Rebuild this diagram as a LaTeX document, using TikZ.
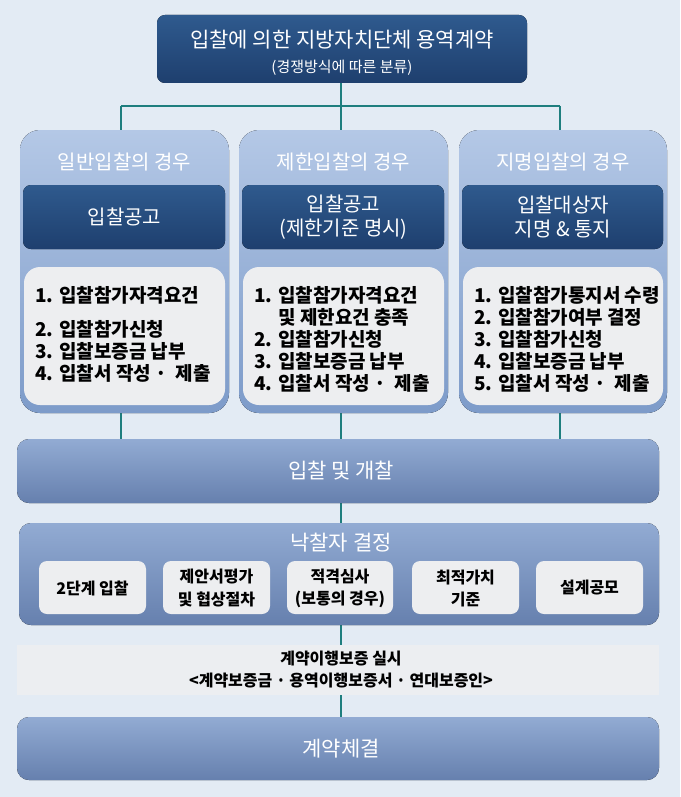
\documentclass[tikz,border=0pt]{standalone}
\usepackage{fontspec}
\setmainfont{Noto Sans CJK KR}
\usetikzlibrary{positioning}
\definecolor{bgblue}{HTML}{E3EBF4}
\definecolor{navy}{HTML}{1E3F6E}
\definecolor{navytop}{HTML}{2F5A8E}
\definecolor{paletop}{HTML}{B4C8E6}
\definecolor{palebot}{HTML}{7D9BC9}
\definecolor{bartop}{HTML}{92ABD3}
\definecolor{barbot}{HTML}{6680AE}
\definecolor{teal}{HTML}{1E7E7E}
\definecolor{cardgray}{HTML}{EDEEF0}
\tikzset{
  x=1pt, y=-1pt,
  linkline/.style={teal, line width=2.2pt},
  darkbox/.style={rounded corners=8pt, top color=navytop, bottom color=navy, draw=none},
  colbox/.style={rounded corners=20pt, top color=paletop, bottom color=palebot, draw=none},
  listbox/.style={rounded corners=16pt, fill=cardgray, draw=none},
  barbox/.style={rounded corners=12pt, top color=bartop, bottom color=barbot, draw=none},
  chipbox/.style={rounded corners=8pt, fill=cardgray, draw=none},
  wtext/.style={text=white, align=center},
  btext/.style={text=black, align=left, inner sep=0pt, font=\bfseries\fontsize{19}{22}\selectfont}
}
\begin{document}
\begin{tikzpicture}
  \fill[bgblue] (0,0) rectangle (680,797);
  \useasboundingbox (0,0) rectangle (680,797);

  % Connectors first
  \coordinate (split) at (341,106);
  \draw[linkline] (341,83) -- (split);
  \draw[linkline] (121,106) -- (560,106);
  \foreach \cx in {121,341,560} {
    \draw[linkline] (\cx,106) -- (\cx,135);
    \draw[linkline] (\cx,405) -- (\cx,445);
  }
  \draw[linkline] (341,500) -- (341,530);
  \draw[linkline] (341,620) -- (341,650);
  \draw[linkline] (341,690) -- (341,720);

  % Top box
  \fill[darkbox] (157,15) rectangle (527,83);
  \node[wtext, font=\fontsize{21}{23}\selectfont] (title) at (342,40) {입찰에 의한 지방자치단체 용역계약};
  \node[wtext, font=\fontsize{15}{17}\selectfont] (subtitle) at (342,68) {(경쟁방식에 따른 분류)};

  % Three columns
  \foreach \lx/\rx/\head/\notice/\items [count=\i] in {
    20/229/일반입찰의 경우/입찰공고/{1. 입찰참가자격요건\\[12pt]2. 입찰참가신청\\3. 입찰보증금 납부\\4. 입찰서 작성 ·\ \ 제출},
    239/448/제한입찰의 경우/{입찰공고\\(제한기준 명시)}/{1. 입찰참가자격요건\\\phantom{1. }및 제한요건 충족\\2. 입찰참가신청\\3. 입찰보증금 납부\\4. 입찰서 작성 ·\ \ 제출},
    459/667/지명입찰의 경우/{입찰대상자\\지명 \& 통지}/{1. 입찰참가통지서 수령\\2. 입찰참가여부 결정\\3. 입찰참가신청\\4. 입찰보증금 납부\\5. 입찰서 작성 ·\ \ 제출}} {
    \fill[colbox] (\lx,130) rectangle (\rx,413);
    \node[wtext, font=\fontsize{20}{22}\selectfont] (head\i) at ({(\lx+\rx)/2},162) {\head};
    \fill[darkbox] ({\lx+3},185) rectangle ({\rx-4},249);
    \node[wtext, font=\fontsize{20}{24}\selectfont] (notice\i) at ({(\lx+\rx)/2},217) {\notice};
    \fill[listbox] ({\lx+4},267) rectangle ({\rx-4},405);
    \node[btext, anchor=north west] (items\i) at ({\lx+15},286) {\items};
  }

  % Bar: bidding
  \fill[barbox] (17,439) rectangle (659,503);
  \node[wtext, font=\fontsize{21}{23}\selectfont] (bidding) at (341,471) {입찰 및 개찰};

  % Bar: winner decision
  \fill[barbox] (19,523) rectangle (659,625);
  \node[wtext, font=\fontsize{21}{23}\selectfont] (winner) at (341,543) {낙찰자 결정};
  \foreach \lx/\rx/\txt [count=\j] in {39/146/2단계 입찰, 163/270/{제안서평가\\및 협상절차}, 287/393/{적격심사\\(보통의 경우)}, 412/519/{최적가치\\기준}, 536/643/설계공모} {
    \fill[chipbox] (\lx,561) rectangle (\rx,614);
    \node[align=center, font=\bfseries\fontsize{16}{22}\selectfont] (method\j) at ({(\lx+\rx)/2},588) {\txt};
  }

  % Gray band: performance guarantee
  \fill[cardgray!85!bgblue] (17,645) rectangle (659,695);
  \node[align=center, font=\bfseries\fontsize{16}{22}\selectfont] (guarantee) at (341,670) {계약이행보증 실시\\<계약보증금 · 용역이행보증서 · 연대보증인>};

  % Bar: contract
  \fill[barbox] (17,717) rectangle (659,780);
  \node[wtext, font=\fontsize{21}{23}\selectfont] (contract) at (341,749) {계약체결};
\end{tikzpicture}
\end{document}
